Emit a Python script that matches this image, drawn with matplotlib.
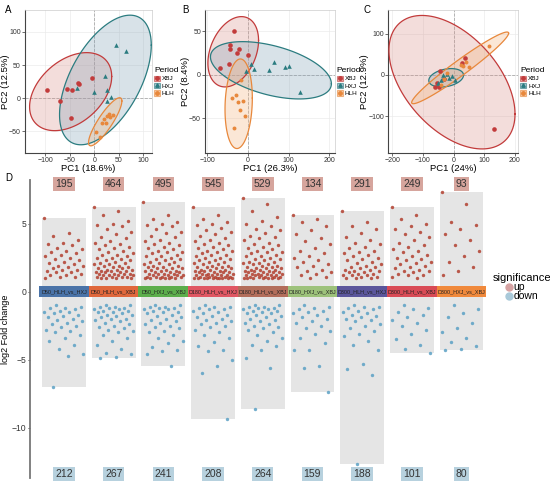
import matplotlib
matplotlib.use("Agg")
import matplotlib.pyplot as plt
import numpy as np
from matplotlib.patches import Patch, Rectangle
from matplotlib.lines import Line2D

plt.rcParams['font.family'] = ['Liberation Sans', 'DejaVu Sans']

# ---------------- PCA data (panels A-C) ----------------
periods = ['XBJ', 'HXJ', 'HLH']
edge_cols = {'XBJ': '#c23b3b', 'HXJ': '#2b7c80', 'HLH': '#e8883c'}
fill_cols = {'XBJ': '#d98f88', 'HXJ': '#7f9fb5', 'HLH': '#f2b27a'}
markers = {'XBJ': 'o', 'HXJ': '^', 'HLH': 'o'}

a_xbj_x = [-96, -70, -55, -46, -34, -31, -5, -47]
a_xbj_y = [12, -5, 14, 13, 23, 22, 30, -30]
a_hxj_x = [45, 65, 22, -36, -1, 27, 34, 27]
a_hxj_y = [80, 71, 34, 16, 9, 13, 2, -5]
a_hlh_x = [27, 39, 33, 20, 15, 24, 3, 11, 30]
a_hlh_y = [-27, -25, -28, -32, -38, -37, -51, -59, -24]

b_xbj_x = [-33, -45, -45, -23, -27, 0, -47, -68]
b_xbj_y = [50, 34, 29, 30, 25, 22, 12, 8]
b_hxj_x = [7, 16, -5, 51, 63, 91, 102, 128]
b_hxj_y = [12, 6, 4, 5, 14, 9, 10, -20]
b_hlh_x = [-16, -29, -38, -24, -11, -20, -8, -35]
b_hlh_y = [-6, -23, -27, -31, -30, -41, -48, -61]

c_xbj_x = [133, 36, 28, -60, -45, -30, -55, -47]
c_xbj_y = [-131, 40, 28, -30, 10, -10, -20, -30]
c_hxj_x = [-50, -40, -30, -22, -15, -35, 5, -5]
c_hxj_y = [-20, -12, -5, 2, -8, 0, -12, -3]
c_hlh_x = [117, 30, 26, 50, -20, -40, 40, -30]
c_hlh_y = [69, 22, 24, 20, 5, -25, 30, -10]

# ---------------- fold-change data (panel D) ----------------
comparisons = ['D50_HLH_vs_HXJ', 'D50_HLH_vs_XBJ', 'D50_HXJ_vs_XBJ',
               'D180_HLH_vs_HXJ', 'D180_HLH_vs_XBJ', 'D180_HXJ_vs_XBJ',
               'D300_HLH_vs_HXJ', 'D300_HLH_vs_XBJ', 'D300_HXJ_vs_XBJ']
tile_cols = ['#4a73a8', '#e0683c', '#5cae4c', '#e05763', '#b36e5b',
             '#9dc27b', '#5b569c', '#d94b56', '#f0893c']
n_up = [195, 464, 495, 545, 529, 134, 291, 249, 93]
n_down = [212, 267, 241, 208, 264, 159, 188, 101, 80]

g1_up = [5.4, 4.3, 4.1, 3.8, 3.6, 3.5, 3.4, 3.2, 3.1, 3.0, 2.9, 2.8, 2.7, 2.6, 2.5,
         2.4, 2.3, 2.2, 2.1, 2.0, 1.9, 1.9, 1.8, 1.7, 1.6, 1.6, 1.5, 1.4, 1.4, 1.3,
         1.2, 1.2, 1.1, 1.1, 1.0]
g1_down = [-1.0, -1.1, -1.2, -1.2, -1.3, -1.4, -1.5, -1.5, -1.6, -1.7, -1.8, -1.9,
           -2.0, -2.1, -2.2, -2.3, -2.4, -2.5, -2.6, -2.8, -2.9, -3.0, -3.2, -3.4,
           -3.6, -3.9, -4.2, -4.6, -4.7, -7.0]
g2_up = [6.2, 5.9, 5.6, 5.2, 5.0, 4.9, 4.8, 4.6, 4.4, 4.2, 4.0, 3.9, 3.7, 3.6, 3.5,
         3.4, 3.3, 3.2, 3.1, 3.0, 2.9, 2.8, 2.7, 2.7, 2.6, 2.5, 2.5, 2.4, 2.3, 2.3,
         2.2, 2.1, 2.1, 2.0, 2.0, 1.9, 1.9, 1.8, 1.8, 1.7, 1.7, 1.6, 1.6, 1.6, 1.5,
         1.5, 1.5, 1.4, 1.4, 1.4, 1.3, 1.3, 1.3, 1.3, 1.2, 1.2, 1.2, 1.2, 1.1, 1.1,
         1.1, 1.1, 1.0, 1.0, 1.0, 1.0]
g2_down = [-1.0, -1.0, -1.1, -1.1, -1.2, -1.2, -1.3, -1.3, -1.4, -1.4, -1.5, -1.5,
           -1.6, -1.7, -1.7, -1.8, -1.9, -2.0, -2.0, -2.1, -2.2, -2.3, -2.4, -2.5,
           -2.6, -2.7, -2.8, -2.9, -3.0, -3.2, -3.4, -3.6, -3.9, -4.2, -4.5, -4.6,
           -4.8, -4.9]
g3_up = [6.6, 5.6, 5.3, 5.1, 5.0, 4.9, 4.8, 4.6, 4.4, 4.3, 4.1, 4.0, 3.8, 3.7, 3.6,
         3.5, 3.4, 3.3, 3.2, 3.1, 3.0, 2.9, 2.9, 2.8, 2.7, 2.6, 2.6, 2.5, 2.4, 2.4,
         2.3, 2.2, 2.2, 2.1, 2.0, 2.0, 1.9, 1.9, 1.8, 1.8, 1.7, 1.7, 1.7, 1.6, 1.6,
         1.5, 1.5, 1.5, 1.4, 1.4, 1.4, 1.3, 1.3, 1.3, 1.3, 1.2, 1.2, 1.2, 1.2, 1.1,
         1.1, 1.1, 1.1, 1.1, 1.0, 1.0, 1.0, 1.0, 1.0, 1.0]
g3_down = [-1.0, -1.0, -1.1, -1.1, -1.2, -1.2, -1.3, -1.3, -1.4, -1.5, -1.5, -1.6,
           -1.7, -1.8, -1.9, -2.0, -2.1, -2.2, -2.3, -2.4, -2.5, -2.6, -2.7, -2.9,
           -3.0, -3.2, -3.4, -3.6, -3.8, -4.1, -4.3, -4.4, -4.6, -5.5]
g4_up = [6.2, 5.6, 5.3, 5.1, 5.0, 4.9, 4.7, 4.5, 4.4, 4.2, 4.1, 3.9, 3.8, 3.7, 3.6,
         3.5, 3.4, 3.3, 3.2, 3.1, 3.0, 3.0, 2.9, 2.8, 2.7, 2.7, 2.6, 2.5, 2.5, 2.4,
         2.3, 2.3, 2.2, 2.2, 2.1, 2.0, 2.0, 1.9, 1.9, 1.8, 1.8, 1.8, 1.7, 1.7, 1.6,
         1.6, 1.6, 1.5, 1.5, 1.5, 1.4, 1.4, 1.4, 1.4, 1.3, 1.3, 1.3, 1.3, 1.2, 1.2,
         1.2, 1.2, 1.2, 1.1, 1.1, 1.1, 1.1, 1.1, 1.0, 1.0, 1.0, 1.0, 1.0, 1.0, 1.0,
         1.0, 1.0, 1.0]
g4_down = [-1.0, -1.1, -1.1, -1.2, -1.3, -1.3, -1.4, -1.5, -1.6, -1.7, -1.8, -1.9,
           -2.0, -2.1, -2.2, -2.3, -2.4, -2.5, -2.6, -2.8, -3.0, -3.2, -3.4, -3.7,
           -4.0, -4.3, -4.4, -5.0, -5.5, -6.0, -9.35]
g5_up = [6.9, 6.4, 5.9, 5.5, 5.2, 5.0, 4.8, 4.6, 4.5, 4.3, 4.1, 4.0, 3.9, 3.8, 3.6,
         3.5, 3.4, 3.3, 3.2, 3.1, 3.0, 2.9, 2.9, 2.8, 2.7, 2.6, 2.6, 2.5, 2.4, 2.4,
         2.3, 2.2, 2.2, 2.1, 2.1, 2.0, 2.0, 1.9, 1.9, 1.8, 1.8, 1.7, 1.7, 1.7, 1.6,
         1.6, 1.6, 1.5, 1.5, 1.5, 1.4, 1.4, 1.4, 1.4, 1.3, 1.3, 1.3, 1.3, 1.2, 1.2,
         1.2, 1.2, 1.2, 1.1, 1.1, 1.1, 1.1, 1.1, 1.0, 1.0, 1.0, 1.0, 1.0, 1.0, 1.0]
g5_down = [-1.0, -1.0, -1.1, -1.1, -1.2, -1.2, -1.3, -1.3, -1.4, -1.4, -1.5, -1.6,
           -1.6, -1.7, -1.8, -1.9, -2.0, -2.1, -2.2, -2.3, -2.4, -2.5, -2.6, -2.7,
           -2.8, -3.0, -3.2, -3.4, -3.6, -3.9, -4.0, -4.3, -4.9, -5.6, -8.6]
g6_up = [5.6, 5.3, 5.1, 4.8, 4.5, 4.2, 3.9, 3.7, 3.5, 3.2, 3.0, 2.8, 2.6, 2.5, 2.3,
         2.2, 2.0, 1.9, 1.8, 1.6, 1.5, 1.4, 1.3, 1.2, 1.1, 1.0]
g6_down = [-1.0, -1.1, -1.2, -1.3, -1.4, -1.5, -1.6, -1.7, -1.9, -2.0, -2.2, -2.3,
           -2.5, -2.7, -2.9, -3.1, -3.4, -3.8, -4.3, -4.3, -5.5, -5.6, -7.35]
g7_up = [5.9, 5.1, 4.8, 4.6, 4.3, 4.0, 3.8, 3.6, 3.5, 3.3, 3.2, 3.0, 2.9, 2.8, 2.7,
         2.6, 2.5, 2.4, 2.3, 2.2, 2.1, 2.0, 1.9, 1.8, 1.8, 1.7, 1.6, 1.6, 1.5, 1.5,
         1.4, 1.4, 1.3, 1.3, 1.2, 1.2, 1.2, 1.1, 1.1, 1.0, 1.0, 1.0]
g7_down = [-1.0, -1.1, -1.1, -1.2, -1.3, -1.4, -1.5, -1.6, -1.7, -1.8, -1.9, -2.0,
           -2.1, -2.2, -2.4, -2.5, -2.7, -2.9, -3.1, -3.3, -3.6, -3.9, -4.3, -5.3,
           -5.7, -6.1, -12.7]
g8_up = [6.2, 5.6, 5.3, 5.0, 4.8, 4.6, 4.4, 4.2, 4.0, 3.8, 3.6, 3.4, 3.3, 3.1, 3.0,
         2.9, 2.7, 2.6, 2.5, 2.4, 2.3, 2.2, 2.1, 2.0, 1.9, 1.8, 1.7, 1.6, 1.5, 1.5,
         1.4, 1.3, 1.2, 1.2, 1.1, 1.0]
g8_down = [-1.0, -1.2, -1.3, -1.5, -1.7, -1.9, -2.1, -2.3, -2.5, -2.8, -3.1, -3.5,
           -3.9, -4.2, -4.5]
g9_up = [7.35, 6.4, 5.1, 4.9, 4.6, 4.2, 3.8, 3.4, 3.0, 2.6, 2.2, 1.8, 1.5, 1.2]
g9_down = [-1.0, -1.3, -1.6, -1.9, -2.3, -2.7, -3.0, -3.4, -3.7, -4.0, -4.2, -4.3]

ups = [g1_up, g2_up, g3_up, g4_up, g5_up, g6_up, g7_up, g8_up, g9_up]
downs = [g1_down, g2_down, g3_down, g4_down, g5_down, g6_down, g7_down, g8_down, g9_down]


def ellipse_xy(x, y, level=0.95, npts=120):
    # t-style confidence ellipse as in ggplot stat_ellipse
    x = np.asarray(x, float)
    y = np.asarray(y, float)
    d = len(x) - 1
    fq = d / 2 * ((1 - level) ** (-2 / d) - 1)
    r = np.sqrt(2 * fq)
    L = np.linalg.cholesky(np.cov(x, y))
    t = np.linspace(0, 2 * np.pi, npts)
    circ = np.vstack([np.cos(t), np.sin(t)])
    e = np.array([[x.mean()], [y.mean()]]) + r * (L @ circ)
    return e[0], e[1]


def pca_panel(ax, data, xlim, ylim, xticks, yticks, xlab, ylab):
    ax.set_axisbelow(True)
    ax.grid(True, color='#ebebeb', lw=0.5)
    ax.axhline(0, color='#aaaaaa', ls='--', lw=0.6, zorder=1)
    ax.axvline(0, color='#aaaaaa', ls='--', lw=0.6, zorder=1)
    for p in periods:
        x, y = data[p]
        ex, ey = ellipse_xy(x, y)
        ax.fill(ex, ey, color=fill_cols[p], alpha=0.3, lw=0, zorder=2)
        ax.plot(ex, ey, color=edge_cols[p], lw=0.9, zorder=3)
    for p in periods:
        x, y = data[p]
        ms = 8 if p == 'HLH' else 11
        ax.scatter(x, y, s=ms, marker=markers[p], color=edge_cols[p], lw=0, zorder=4)
    ax.set_xlim(xlim)
    ax.set_ylim(ylim)
    ax.set_xticks(xticks)
    ax.set_yticks(yticks)
    ax.tick_params(labelsize=5, length=2, width=0.5, pad=1, colors='#333333')
    ax.set_xlabel(xlab, fontsize=6.8, labelpad=0)
    ax.set_ylabel(ylab, fontsize=6.8, labelpad=-0.5)
    for s in ['left', 'bottom']:
        ax.spines[s].set_color('#444444')
        ax.spines[s].set_linewidth(0.8)
    for s in ['top', 'right']:
        ax.spines[s].set_color('#cccccc')
        ax.spines[s].set_linewidth(0.5)
    handles = [(Patch(fc=fill_cols[p], ec=edge_cols[p], alpha=0.6, lw=0.8),
                Line2D([], [], marker=markers[p], color=edge_cols[p], ls='', ms=2.5))
               for p in periods]
    leg = ax.legend(handles, periods, title='Period', loc='center left',
                    bbox_to_anchor=(1.0, 0.5), frameon=False, fontsize=4.6,
                    title_fontsize=6.0, handlelength=0.9, handleheight=0.9,
                    handletextpad=0.35, labelspacing=0.25, borderaxespad=0.1,
                    borderpad=0.2)
    leg._legend_box.align = 'left'


fig = plt.figure(figsize=(5.5, 4.83), dpi=100)

axA = fig.add_axes([0.0455, 0.683, 0.231, 0.296])
pca_panel(axA, {'XBJ': (a_xbj_x, a_xbj_y), 'HXJ': (a_hxj_x, a_hxj_y), 'HLH': (a_hlh_x, a_hlh_y)},
          (-141, 118), (-83, 133), [-100, -50, 0, 50, 100], [-50, 0, 50, 100],
          'PC1 (18.6%)', 'PC2 (12.5%)')
axB = fig.add_axes([0.373, 0.683, 0.236, 0.296])
pca_panel(axB, {'XBJ': (b_xbj_x, b_xbj_y), 'HXJ': (b_hxj_x, b_hxj_y), 'HLH': (b_hlh_x, b_hlh_y)},
          (-105, 214), (-90, 74), [-100, 0, 100, 200], [-50, 0, 50],
          'PC1 (26.3%)', 'PC2 (8.4%)')
axC = fig.add_axes([0.706, 0.683, 0.236, 0.296])
pca_panel(axC, {'XBJ': (c_xbj_x, c_xbj_y), 'HXJ': (c_hxj_x, c_hxj_y), 'HLH': (c_hlh_x, c_hlh_y)},
          (-213, 211), (-190, 157), [-200, -100, 0, 100, 200], [-100, 0, 100],
          'PC1 (24%)', 'PC2 (12.9%)')

# ---------------- panel D ----------------
axD = fig.add_axes([0.0545, 0.0104, 0.836, 0.617])
for i, name in enumerate(comparisons):
    up = np.array(ups[i])
    dn = np.array(downs[i])
    lo, hi = dn.min(), up.max()
    axD.add_patch(Rectangle((i - 0.44, lo), 0.88, hi - lo, color='#e5e5e5', lw=0, zorder=1))
    jit_u = ((np.arange(len(up)) * 0.618034) % 1 - 0.5) * 0.8
    jit_d = ((np.arange(len(dn)) * 0.618034 + 0.3) % 1 - 0.5) * 0.8
    axD.scatter(i + jit_u, up, s=6, color='#b23f2f', lw=0, alpha=0.85, zorder=2)
    axD.scatter(i + jit_d, dn, s=6, color='#5aa0c4', lw=0, alpha=0.85, zorder=2)
    axD.add_patch(Rectangle((i - 0.5, -0.42), 1.0, 0.84, color=tile_cols[i], lw=0, zorder=3))
    axD.text(i, 0, name, ha='center', va='center', fontsize=3.9, color='#222222', zorder=4)
    axD.text(i, 7.9, str(n_up[i]), ha='center', va='center', fontsize=7.5, color='#333333',
             bbox=dict(boxstyle='square,pad=0.2', fc='#d6a59d', ec='none'))
    axD.text(i, -13.4, str(n_down[i]), ha='center', va='center', fontsize=7.5, color='#333333',
             bbox=dict(boxstyle='square,pad=0.2', fc='#b7d1de', ec='none'))

axD.set_xlim(-0.684, 8.57)
axD.set_ylim(-13.7, 8.2)
axD.set_yticks([-10, -5, 0, 5])
axD.set_xticks([])
axD.tick_params(axis='y', labelsize=6.2, length=1.5, width=0.6, pad=1, colors='#333333')
axD.set_ylabel('log2 Fold change', fontsize=6.5, labelpad=1)
for s in ['top', 'right', 'bottom']:
    axD.spines[s].set_visible(False)
axD.spines['left'].set_color('#777777')
axD.spines['left'].set_linewidth(1.3)

sig_handles = [Line2D([], [], marker='o', color='#d6a3a3', ls='', ms=5),
               Line2D([], [], marker='o', color='#a9c9d9', ls='', ms=5)]
fig.legend(sig_handles, ['up', 'down'], title='significance', loc='center left',
           bbox_to_anchor=(0.888, 0.405), frameon=False, fontsize=7.5, title_fontsize=8,
           handlelength=0.6, handletextpad=0.2, labelspacing=-0.1, borderaxespad=0)

for lab, x, y in [('A', 5, 10), ('B', 182, 10), ('C', 363, 10), ('D', 5, 178)]:
    fig.text(x / 550, 1 - y / 483, lab, fontsize=7, va='center', ha='left')

fig.savefig('out.png', dpi=100)
